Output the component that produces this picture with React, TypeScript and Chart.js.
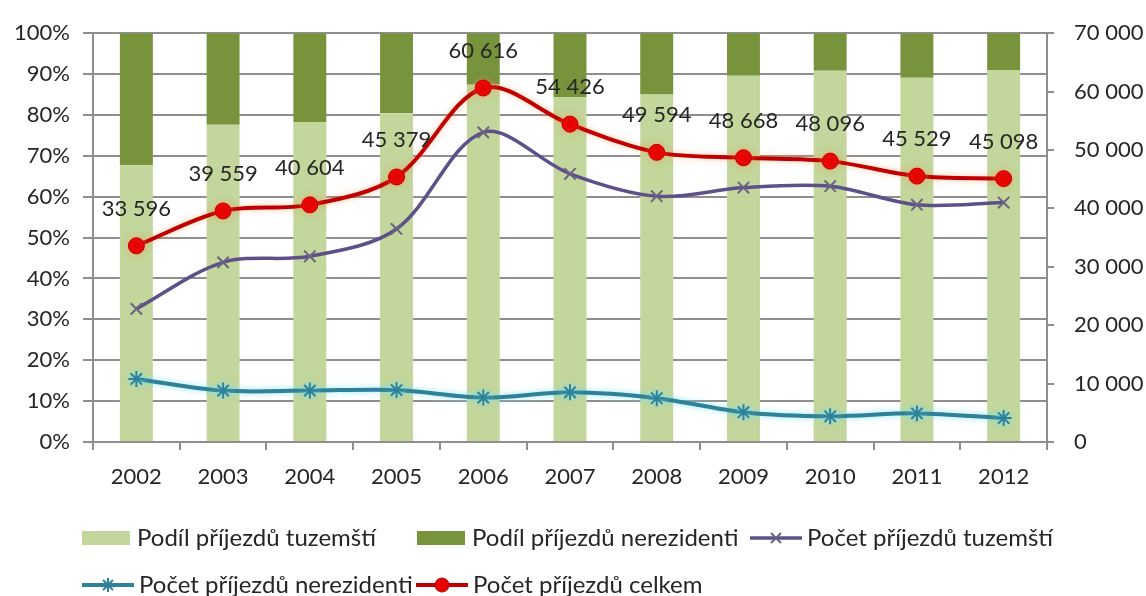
import React, { useEffect, useRef } from 'react';
import { Chart, registerables } from 'chart.js';
import { drawPoint } from 'chart.js/helpers';

Chart.register(...registerables);

// ---------- data ----------
const years = ['2002', '2003', '2004', '2005', '2006', '2007', '2008', '2009', '2010', '2011', '2012'];
const podilTuzemsti = [67.7, 77.6, 78.3, 80.4, 87.4, 84.4, 85.0, 89.6, 90.8, 89.1, 91.0];
const podilNerezidenti = [32.3, 22.4, 21.7, 19.6, 12.6, 15.6, 15.0, 10.4, 9.2, 10.9, 9.0];
const pocetTuzemsti = [22800, 30760, 31800, 36480, 53020, 45930, 42090, 43570, 43800, 40630, 41000];
const pocetNerezidenti = [10800, 8800, 8800, 8900, 7600, 8500, 7500, 5100, 4400, 4900, 4100];
const pocetCelkem = [33596, 39559, 40604, 45379, 60616, 54426, 49594, 48668, 48096, 45529, 45098];

const labels = {
  podilTuzemsti: 'Podíl příjezdů tuzemští',
  podilNerezidenti: 'Podíl příjezdů nerezidenti',
  pocetTuzemsti: 'Počet příjezdů tuzemští',
  pocetNerezidenti: 'Počet příjezdů nerezidenti',
  pocetCelkem: 'Počet příjezdů celkem',
};

// ---------- styles ----------
const FONT = 'Lato, "Open Sans", sans-serif';
const TEXT = '#262626';
const GRID = '#8f8f8f';
const LIGHT_GREEN = '#C3D69B';
const DARK_GREEN = '#77933C';
const PURPLE = '#5E5088';
const TEAL = '#2F8198';
const RED_LINE = '#C00000';
const RED_POINT = '#E60000';

const fmtThousands = (v: number) => String(Math.round(v)).replace(/\B(?=(\d{3})+(?!\d))/g, ' ');

// legend layout: [datasetIndex, x, row]
const legendLayout: [number, number, number][] = [
  [0, 82, 0],
  [1, 417, 0],
  [3, 750, 0],
  [4, 82, 1],
  [2, 416, 1],
];
const legendRowsY = [538, 585];

const glowPlugin = {
  id: 'glow',
  beforeDatasetDraw(chart: any, args: any) {
    const ds = chart.data.datasets[args.index];
    if (ds.glow) {
      chart.ctx.save();
      chart.ctx.shadowColor = ds.glow;
      chart.ctx.shadowBlur = 6;
    }
  },
  afterDatasetDraw(chart: any, args: any) {
    const ds = chart.data.datasets[args.index];
    if (ds.glow) chart.ctx.restore();
  },
};

const valueLabelPlugin = {
  id: 'valueLabels',
  afterDatasetsDraw(chart: any) {
    const ctx = chart.ctx;
    chart.data.datasets.forEach((ds: any, i: number) => {
      if (!ds.showValues) return;
      const meta = chart.getDatasetMeta(i);
      ctx.save();
      ctx.font = `22px ${FONT}`;
      ctx.fillStyle = TEXT;
      ctx.textAlign = 'center';
      ctx.textBaseline = 'middle';
      meta.data.forEach((el: any, j: number) => {
        ctx.fillText(fmtThousands(ds.data[j]), el.x, el.y - 37);
      });
      ctx.restore();
    });
  },
};

const customLegendPlugin = {
  id: 'customLegend',
  afterDraw(chart: any) {
    const ctx = chart.ctx;
    ctx.save();
    ctx.font = `24px ${FONT}`;
    ctx.textBaseline = 'middle';
    ctx.textAlign = 'left';
    legendLayout.forEach(([di, x, row]) => {
      const ds = chart.data.datasets[di];
      const y = legendRowsY[row];
      let textX: number;
      if (ds.type === 'bar') {
        ctx.fillStyle = ds.backgroundColor;
        ctx.fillRect(x, y - 7, 48, 14);
        textX = x + 55;
      } else {
        const w = 52;
        ctx.strokeStyle = ds.borderColor;
        ctx.lineWidth = ds.borderWidth;
        ctx.beginPath();
        ctx.moveTo(x, y);
        ctx.lineTo(x + w, y);
        ctx.stroke();
        ctx.fillStyle = ds.pointBackgroundColor;
        ctx.strokeStyle = ds.pointBorderColor;
        ctx.lineWidth = ds.pointBorderWidth;
        drawPoint(ctx, { pointStyle: ds.pointStyle, rotation: 0, radius: 7, borderWidth: ds.pointBorderWidth }, x + w / 2, y);
        textX = x + w + 5;
      }
      ctx.fillStyle = TEXT;
      ctx.fillText(ds.label, textX, y);
    });
    ctx.restore();
  },
};

export default function App() {
  const ref = useRef<HTMLCanvasElement | null>(null);

  useEffect(() => {
    if (!ref.current) return;
    const chart = new Chart(ref.current, {
      type: 'bar',
      data: {
        labels: years,
        datasets: [
          {
            type: 'bar',
            label: labels.podilTuzemsti,
            data: podilTuzemsti,
            backgroundColor: LIGHT_GREEN,
            yAxisID: 'y',
            stack: 'podil',
            order: 3,
            barPercentage: 0.38,
            categoryPercentage: 1,
          },
          {
            type: 'bar',
            label: labels.podilNerezidenti,
            data: podilNerezidenti,
            backgroundColor: DARK_GREEN,
            yAxisID: 'y',
            stack: 'podil',
            order: 3,
            barPercentage: 0.38,
            categoryPercentage: 1,
          },
          {
            type: 'line',
            label: labels.pocetCelkem,
            data: pocetCelkem,
            yAxisID: 'y1',
            borderColor: RED_LINE,
            borderWidth: 4,
            tension: 0.33,
            pointStyle: 'circle',
            pointRadius: 8,
            pointBackgroundColor: RED_POINT,
            pointBorderColor: RED_LINE,
            pointBorderWidth: 1,
            order: 0,
            showValues: true,
            glow: 'rgba(255,150,90,0.55)',
          } as any,
          {
            type: 'line',
            label: labels.pocetTuzemsti,
            data: pocetTuzemsti,
            yAxisID: 'y1',
            borderColor: PURPLE,
            borderWidth: 3.5,
            tension: 0.33,
            pointStyle: 'crossRot',
            pointRadius: 8,
            pointBackgroundColor: PURPLE,
            pointBorderColor: '#6a6480',
            pointBorderWidth: 2,
            order: 1,
          } as any,
          {
            type: 'line',
            label: labels.pocetNerezidenti,
            data: pocetNerezidenti,
            yAxisID: 'y1',
            borderColor: TEAL,
            borderWidth: 4,
            tension: 0.33,
            pointStyle: 'star',
            pointRadius: 8,
            pointBackgroundColor: TEAL,
            pointBorderColor: TEAL,
            pointBorderWidth: 2,
            order: 2,
            glow: 'rgba(120,225,245,0.8)',
          } as any,
        ],
      },
      options: {
        responsive: false,
        animation: false,
        layout: { padding: { left: 0, right: 0, top: 30, bottom: 94 } },
        plugins: {
          legend: { display: false },
          tooltip: { enabled: false },
        },
        scales: {
          x: {
            stacked: true,
            grid: {
              display: true,
              drawOnChartArea: false,
              drawTicks: true,
              tickLength: 8,
              color: GRID,
              lineWidth: 2,
              offset: true,
            },
            border: { display: true, color: GRID, width: 2 },
            ticks: { font: { family: FONT, size: 22 }, color: TEXT, padding: 14 },
            afterFit: (s: any) => { s.height = 60; },
          },
          y: {
            stacked: true,
            position: 'left',
            min: 0,
            max: 100,
            ticks: {
              stepSize: 10,
              callback: (v: any) => `${v}%`,
              font: { family: FONT, size: 22 },
              color: TEXT,
              padding: 13,
            },
            grid: { color: GRID, lineWidth: 2, tickLength: 10 },
            border: { color: GRID, width: 2 },
            afterFit: (s: any) => { s.width = 93; },
          },
          y1: {
            position: 'right',
            min: 0,
            max: 70000,
            ticks: {
              stepSize: 10000,
              callback: (v: any) => fmtThousands(Number(v)),
              font: { family: FONT, size: 22 },
              color: TEXT,
              padding: 20,
            },
            grid: { drawOnChartArea: false, tickLength: 7, color: GRID, lineWidth: 2 },
            border: { color: GRID, width: 2 },
            afterFit: (s: any) => { s.width = 99; },
          },
        } as any,
      },
      plugins: [glowPlugin, valueLabelPlugin, customLegendPlugin],
    });
    return () => chart.destroy();
  }, []);

  return (
    <div style={{ position: 'absolute', left: 0, top: 0, width: 1146, height: 596, background: '#fff' }}>
      <canvas ref={ref} width={1146} height={596} style={{ display: 'block' }} />
    </div>
  );
}
